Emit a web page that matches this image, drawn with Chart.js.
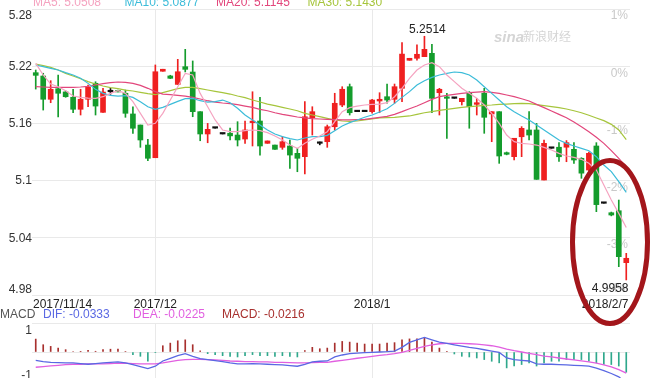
<!DOCTYPE html>
<html>
<head>
<meta charset="utf-8">
<script src="https://cdn.jsdelivr.net/npm/chart.js@4.4.1/dist/chart.umd.min.js"></script>
<style>
  html, body { margin: 0; padding: 0; background: #fff; }
  #wrap { position: relative; width: 654px; height: 378px; overflow: hidden; }
  #kline { position: absolute; left: 0; top: 0; }
  #macd { position: absolute; left: 0; top: 300px; }
  #mark { position: absolute; left: 0; top: 0; pointer-events: none; }
</style>
</head>
<body>
<div id="wrap">
  <canvas id="kline" width="654" height="312"></canvas>
  <canvas id="macd" width="654" height="90"></canvas>
  <canvas id="mark" width="654" height="378"></canvas>
</div>
<script>
// Sina-style daily K-line with MA lines and MACD panel

// --- data ---
const xTickIndex = [0, 16, 45, 79];
const xTickLabels = ['2017/11/14', '2017/12', '2018/1', '2018/2/7'];
const priceTicks = [4.98, 5.04, 5.10, 5.16, 5.22, 5.28];
const pctLabels = ['-4%', '-3%', '-2%', '-1%', '0%', '1%'];
const macdTickLabels = ['-1', '1'];

const opens = [
  5.2132, 5.2097, 5.1853, 5.1964, 5.1930, 5.1874, 5.1748, 5.1853, 5.2021, 5.1716,
  5.1932, 5.1945, 5.1916, 5.1699, 5.1583, 5.1373, 5.1240, 5.2147, 5.2098, 5.2009,
  5.2195, 5.2139, 5.1723, 5.1489, 5.1550, 5.1489, 5.1497, 5.1478, 5.1436, 5.1608,
  5.1625, 5.1391, 5.1373, 5.1349, 5.1363, 5.1286, 5.1251, 5.1660, 5.1391, 5.1408,
  5.1565, 5.1793, 5.1985, 5.1723, 5.1723, 5.1723, 5.1835, 5.1880, 5.1853, 5.1968,
  5.2262, 5.2283, 5.2300, 5.2335, 5.1922, 5.1877, 5.1863, 5.1828, 5.1916, 5.1800,
  5.1916, 5.1699, 5.1723, 5.1293, 5.1251, 5.1460, 5.1531, 5.1531, 5.1006, 5.1339,
  5.1350, 5.1350, 5.1328, 5.1234, 5.1111, 5.1363, 5.0762, 5.0663, 5.0684, 5.0139
];
const highs = [
  5.2160, 5.2126, 5.2048, 5.2108, 5.1940, 5.1958, 5.1958, 5.2003, 5.2037, 5.1968,
  5.1968, 5.1950, 5.1950, 5.1775, 5.1583, 5.1433, 5.2213, 5.2168, 5.2105, 5.2272,
  5.2377, 5.2255, 5.1723, 5.1600, 5.1550, 5.1489, 5.1550, 5.1618, 5.1625, 5.1932,
  5.1874, 5.1416, 5.1373, 5.1460, 5.1426, 5.1339, 5.1828, 5.1775, 5.1405, 5.1583,
  5.1916, 5.1985, 5.2013, 5.1723, 5.1723, 5.1853, 5.1922, 5.2013, 5.2013, 5.2447,
  5.2283, 5.2423, 5.2514, 5.2430, 5.1968, 5.1916, 5.1863, 5.1863, 5.1933, 5.1863,
  5.1968, 5.1723, 5.1723, 5.1300, 5.1444, 5.1566, 5.1723, 5.1600, 5.1426, 5.1339,
  5.1400, 5.1420, 5.1398, 5.1240, 5.1300, 5.1398, 5.0762, 5.0670, 5.0796, 5.0237
];
const lows = [
  5.1960, 5.1740, 5.1817, 5.1667, 5.1874, 5.1712, 5.1688, 5.1775, 5.1688, 5.1716,
  5.1905, 5.1929, 5.1664, 5.1496, 5.1349, 5.1209, 5.1240, 5.2147, 5.2070, 5.2009,
  5.2140, 5.1670, 5.1418, 5.1397, 5.1550, 5.1489, 5.1427, 5.1363, 5.1391, 5.1363,
  5.1268, 5.1391, 5.1328, 5.1328, 5.1129, 5.1093, 5.1069, 5.1478, 5.1375, 5.1349,
  5.1530, 5.1775, 5.1688, 5.1723, 5.1723, 5.1706, 5.1712, 5.1811, 5.1811, 5.1828,
  5.2262, 5.2262, 5.2300, 5.1712, 5.1688, 5.1443, 5.1863, 5.1793, 5.1549, 5.1688,
  5.1496, 5.1408, 5.1181, 5.1270, 5.1216, 5.1251, 5.1426, 5.1013, 5.1006, 5.1339,
  5.1200, 5.1198, 5.1180, 5.1024, 5.1100, 5.0674, 5.0762, 5.0630, 5.0097, 4.9958
];
const closes = [
  5.2104, 5.1853, 5.1958, 5.1916, 5.1880, 5.1748, 5.1853, 5.1979, 5.1782, 5.1929,
  5.1932, 5.1930, 5.1706, 5.1549, 5.1426, 5.1234, 5.2142, 5.2168, 5.2073, 5.2142,
  5.2167, 5.1723, 5.1489, 5.1538, 5.1550, 5.1489, 5.1469, 5.1426, 5.1531, 5.1622,
  5.1363, 5.1416, 5.1328, 5.1408, 5.1268, 5.1234, 5.1670, 5.1723, 5.1391, 5.1565,
  5.1811, 5.1958, 5.1712, 5.1723, 5.1723, 5.1845, 5.1853, 5.1845, 5.1985, 5.2327,
  5.2283, 5.2325, 5.2377, 5.1863, 5.1958, 5.1863, 5.1863, 5.1863, 5.1775, 5.1817,
  5.1664, 5.1723, 5.1258, 5.1276, 5.1444, 5.1548, 5.1478, 5.1013, 5.1391, 5.1339,
  5.1250, 5.1398, 5.1216, 5.1078, 5.1286, 5.0748, 5.0762, 5.0639, 5.0202, 5.0185
];

const ma5 = [
  5.2230, 5.2108, 5.2013, 5.1985, 5.1943, 5.1887, 5.1873, 5.1866, 5.1863, 5.1880,
  5.1915, 5.1943, 5.1915, 5.1828, 5.1705, 5.1583, 5.1601, 5.1705, 5.1845, 5.1985,
  5.2125, 5.2108, 5.1915, 5.1775, 5.1636, 5.1531, 5.1513, 5.1513, 5.1524, 5.1531,
  5.1524, 5.1503, 5.1468, 5.1426, 5.1373, 5.1338, 5.1391, 5.1433, 5.1468, 5.1513,
  5.1618, 5.1723, 5.1765, 5.1782, 5.1793, 5.1800, 5.1803, 5.1817, 5.1880, 5.1968,
  5.2073, 5.2160, 5.2213, 5.2237, 5.2195, 5.2108, 5.2038, 5.1968, 5.1915, 5.1863,
  5.1793, 5.1705, 5.1601, 5.1478, 5.1408, 5.1391, 5.1384, 5.1373, 5.1349, 5.1321,
  5.1286, 5.1258, 5.1244, 5.1223, 5.1181, 5.1111, 5.0954, 5.0796, 5.0656, 5.0508
];
const ma10 = [
  5.2213, 5.2195, 5.2178, 5.2160, 5.2132, 5.2108, 5.2073, 5.2020, 5.1957, 5.1915,
  5.1894, 5.1887, 5.1891, 5.1873, 5.1828, 5.1775, 5.1747, 5.1768, 5.1800, 5.1831,
  5.1859, 5.1863, 5.1838, 5.1824, 5.1828, 5.1845, 5.1817, 5.1758, 5.1688, 5.1636,
  5.1583, 5.1531, 5.1489, 5.1461, 5.1440, 5.1426, 5.1447, 5.1461, 5.1461, 5.1475,
  5.1524, 5.1573, 5.1608, 5.1636, 5.1664, 5.1688, 5.1720, 5.1754, 5.1810, 5.1873,
  5.1933, 5.2003, 5.2048, 5.2083, 5.2108, 5.2125, 5.2139, 5.2132, 5.2108, 5.2055,
  5.1985, 5.1915, 5.1845, 5.1775, 5.1723, 5.1678, 5.1636, 5.1583, 5.1531, 5.1478,
  5.1426, 5.1391, 5.1363, 5.1338, 5.1314, 5.1251, 5.1163, 5.1094, 5.0989, 5.0877
];
const ma20 = [
  5.1985, 5.1982, 5.1978, 5.1978, 5.1978, 5.1978, 5.1982, 5.1989, 5.2003, 5.2017,
  5.2027, 5.2034, 5.2031, 5.2020, 5.1999, 5.1968, 5.1933, 5.1908, 5.1901, 5.1894,
  5.1887, 5.1873, 5.1856, 5.1838, 5.1824, 5.1814, 5.1807, 5.1796, 5.1782, 5.1768,
  5.1747, 5.1733, 5.1712, 5.1695, 5.1681, 5.1667, 5.1657, 5.1650, 5.1646, 5.1643,
  5.1639, 5.1636, 5.1636, 5.1639, 5.1643, 5.1653, 5.1664, 5.1674, 5.1695, 5.1723,
  5.1754, 5.1782, 5.1817, 5.1852, 5.1880, 5.1894, 5.1905, 5.1915, 5.1922, 5.1929,
  5.1933, 5.1926, 5.1915, 5.1898, 5.1880, 5.1859, 5.1835, 5.1800, 5.1765, 5.1730,
  5.1695, 5.1660, 5.1615, 5.1566, 5.1513, 5.1454, 5.1391, 5.1314, 5.1233, 5.1145
];
const ma30 = [
  5.2223, 5.2206, 5.2188, 5.2160, 5.2125, 5.2097, 5.2069, 5.2038, 5.2013, 5.1992,
  5.1975, 5.1964, 5.1950, 5.1940, 5.1926, 5.1912, 5.1901, 5.1922, 5.1943, 5.1964,
  5.1978, 5.1978, 5.1964, 5.1950, 5.1936, 5.1922, 5.1908, 5.1887, 5.1870, 5.1845,
  5.1824, 5.1803, 5.1786, 5.1768, 5.1751, 5.1733, 5.1705, 5.1688, 5.1671, 5.1653,
  5.1636, 5.1625, 5.1622, 5.1625, 5.1636, 5.1646, 5.1657, 5.1660, 5.1664, 5.1671,
  5.1678, 5.1695, 5.1712, 5.1723, 5.1737, 5.1747, 5.1758, 5.1768, 5.1775, 5.1782,
  5.1789, 5.1793, 5.1800, 5.1803, 5.1807, 5.1810, 5.1807, 5.1796, 5.1786, 5.1775,
  5.1765, 5.1751, 5.1733, 5.1712, 5.1685, 5.1657, 5.1629, 5.1590, 5.1531, 5.1430
];

const dif = [
  -0.0089, -0.0103, -0.0110, -0.0113, -0.0117, -0.0117, -0.0124, -0.0131, -0.0124, -0.0117,
  -0.0110, -0.0106, -0.0117, -0.0135, -0.0156, -0.0177, -0.0152, -0.0096, -0.0067, -0.0039,
  -0.0018, -0.0046, -0.0071, -0.0082, -0.0092, -0.0103, -0.0117, -0.0128, -0.0128, -0.0124,
  -0.0128, -0.0131, -0.0135, -0.0138, -0.0145, -0.0152, -0.0131, -0.0106, -0.0099, -0.0096,
  -0.0053, -0.0032, -0.0018, -0.0011, -0.0007, -0.0004, 0.0000, 0.0003, 0.0010, 0.0049,
  0.0102, 0.0130, 0.0155, 0.0130, 0.0106, 0.0092, 0.0077, 0.0063, 0.0049, 0.0039,
  0.0024, 0.0010, -0.0004, -0.0064, -0.0082, -0.0089, -0.0096, -0.0128, -0.0131, -0.0131,
  -0.0135, -0.0138, -0.0142, -0.0145, -0.0152, -0.0173, -0.0198, -0.0230, -0.0265, -0.0333
];
const dea = [
  -0.0163, -0.0156, -0.0149, -0.0142, -0.0135, -0.0131, -0.0131, -0.0128, -0.0128, -0.0128,
  -0.0124, -0.0120, -0.0120, -0.0124, -0.0128, -0.0128, -0.0128, -0.0117, -0.0103, -0.0089,
  -0.0082, -0.0078, -0.0078, -0.0082, -0.0085, -0.0089, -0.0096, -0.0099, -0.0103, -0.0103,
  -0.0106, -0.0106, -0.0110, -0.0110, -0.0113, -0.0117, -0.0117, -0.0113, -0.0110, -0.0110,
  -0.0099, -0.0089, -0.0078, -0.0067, -0.0057, -0.0046, -0.0036, -0.0029, -0.0018, -0.0004,
  0.0017, 0.0039, 0.0060, 0.0077, 0.0088, 0.0092, 0.0092, 0.0092, 0.0088, 0.0084,
  0.0077, 0.0067, 0.0053, 0.0031, 0.0014, 0.0000, -0.0015, -0.0029, -0.0043, -0.0053,
  -0.0064, -0.0075, -0.0085, -0.0096, -0.0106, -0.0120, -0.0138, -0.0159, -0.0188, -0.0225
];
const macdBars = [
  0.0138, 0.0078, 0.0060, 0.0042, 0.0025, 0.0005, 0.0003, 0.0018, 0.0008, 0.0025,
  0.0030, 0.0030, 0.0005, -0.0028, -0.0046, -0.0099, -0.0004, 0.0067, 0.0095, 0.0120,
  0.0130, 0.0078, 0.0012, -0.0018, -0.0028, -0.0039, -0.0046, -0.0053, -0.0039, -0.0028,
  -0.0039, -0.0039, -0.0046, -0.0039, -0.0046, -0.0053, 0.0014, 0.0050, 0.0035, 0.0042,
  0.0095, 0.0113, 0.0106, 0.0095, 0.0085, 0.0085, 0.0085, 0.0095, 0.0100, 0.0130,
  0.0140, 0.0140, 0.0155, 0.0106, 0.0042, 0.0003, -0.0021, -0.0046, -0.0053, -0.0064,
  -0.0081, -0.0099, -0.0116, -0.0170, -0.0150, -0.0134, -0.0116, -0.0150, -0.0116, -0.0099,
  -0.0099, -0.0081, -0.0081, -0.0081, -0.0099, -0.0116, -0.0134, -0.0134, -0.0150, -0.0216
];

// --- style ---
const FONT = '12px Arial, "Liberation Sans", sans-serif';
const GRID = '#e9e9e9';
const NONE = 'rgba(0,0,0,0)';
const UP = '#ef2020', DOWN = '#149c2c', FLAT = '#111';
const MA_COLORS = ['#f5a3c0', '#3cbcd9', '#e2477c', '#a6c53c'];
const DIF_COLOR = '#5a68e3', DEA_COLOR = '#e15fe0', MACD_COLOR = '#a8302e', MACD_DOWN = '#2fa88c';

Chart.defaults.font.family = 'Arial, "Liberation Sans", sans-serif';

const days = opens.map((_, i) => i);
const candleColors = opens.map((o, i) => closes[i] > o ? UP : closes[i] < o ? DOWN : FLAT);
const monthLines = xTickIndex.slice(1, -1);

const lineSet = (label, data, color) => ({
  type: 'line', label, data, borderColor: color, borderWidth: 1.2,
  pointRadius: 0, tension: 0, fill: false, order: 0
});

const xScale = {
  offset: true,
  ticks: { display: false, autoSkip: false },
  grid: { offset: false, drawTicks: false, color: c => monthLines.includes(c.index) ? GRID : NONE },
  border: { display: false }
};

// text drawn on the K-line panel
const klineText = {
  id: 'klineText',
  beforeDatasetsDraw(chart) {
    const { ctx, chartArea: a, scales: { y } } = chart;
    ctx.save();
    ctx.font = FONT;
    ctx.fillStyle = '#c9c9c9';
    ctx.textAlign = 'right';
    priceTicks.forEach((v, k) => {
      const py = y.getPixelForValue(v);
      if (k === 0) { ctx.textBaseline = 'alphabetic'; ctx.fillText(pctLabels[k], a.right - 2, py - 3); }
      else { ctx.textBaseline = 'top'; ctx.fillText(pctLabels[k], a.right - 2, py + 1); }
    });
    // watermark
    ctx.fillStyle = '#d5d5d5';
    ctx.textAlign = 'left';
    ctx.textBaseline = 'alphabetic';
    ctx.font = 'italic bold 15px Arial, sans-serif';
    ctx.fillText('sina', 494, 42);
    ctx.font = '12px "Noto Sans CJK SC", sans-serif';
    ctx.fillText('新浪财经', 523, 41);
    ctx.restore();
  },
  afterDraw(chart) {
    const { ctx, chartArea: a, scales: { x, y } } = chart;
    ctx.save();
    ctx.font = FONT;

    // MA legend (partly above the canvas top)
    const maLast = [ma5, ma10, ma20, ma30].map(s => s[s.length - 1].toFixed(4));
    ['MA5', 'MA10', 'MA20', 'MA30'].forEach((n, k) => {
      ctx.fillStyle = MA_COLORS[k];
      ctx.textAlign = 'left';
      ctx.textBaseline = 'alphabetic';
      ctx.fillText(n + ': ' + maLast[k], 33 + k * 91.5, 6);
    });

    // left price labels
    ctx.fillStyle = '#333';
    ctx.textAlign = 'right';
    priceTicks.forEach((v, k) => {
      const py = y.getPixelForValue(v);
      if (k === priceTicks.length - 1) { ctx.textBaseline = 'top'; ctx.fillText(v.toFixed(2).replace(/0$/, ''), a.left, py + 1); }
      else if (k === 0) { ctx.textBaseline = 'alphabetic'; ctx.fillText(v.toFixed(2).replace(/0$/, ''), a.left, py - 2.5); }
      else { ctx.textBaseline = 'middle'; ctx.fillText(v.toFixed(2).replace(/0$/, ''), a.left, py + 0.5); }
    });

    // date labels
    ctx.fillStyle = '#222';
    ctx.textBaseline = 'alphabetic';
    xTickIndex.forEach((idx, k) => {
      const px = x.getPixelForValue(idx);
      if (k === 0) { ctx.textAlign = 'left'; ctx.fillText(xTickLabels[k], a.left + 1, a.bottom + 12.5); }
      else if (k === xTickIndex.length - 1) { ctx.textAlign = 'right'; ctx.fillText(xTickLabels[k], a.right - 1.5, a.bottom + 12.5); }
      else { ctx.textAlign = 'center'; ctx.fillText(xTickLabels[k], px, a.bottom + 12.5); }
    });

    // highest / lowest marks
    const hi = Math.max(...highs), lo = Math.min(...lows);
    const hiIdx = highs.indexOf(hi), loIdx = lows.indexOf(lo);
    ctx.fillStyle = '#222';
    ctx.textAlign = 'center';
    ctx.fillText(hi.toFixed(4), x.getPixelForValue(hiIdx) + 3, y.getPixelForValue(hi) - 3);
    ctx.textAlign = 'right';
    ctx.fillText(lo.toFixed(4), Math.min(x.getPixelForValue(loIdx) + 18, a.right - 1.5), y.getPixelForValue(lo) + 12);
    ctx.restore();
  }
};

new Chart(document.getElementById('kline'), {
  data: {
    labels: days,
    datasets: [
      lineSet('MA5', ma5, MA_COLORS[0]),
      lineSet('MA10', ma10, MA_COLORS[1]),
      lineSet('MA20', ma20, MA_COLORS[2]),
      lineSet('MA30', ma30, MA_COLORS[3]),
      {
        type: 'bar', label: 'body', data: opens.map((o, i) => [o, closes[i]]),
        backgroundColor: candleColors, barThickness: 5, minBarLength: 1.5,
        grouped: false, order: 1
      },
      {
        type: 'bar', label: 'wick', data: lows.map((l, i) => [l, highs[i]]),
        backgroundColor: candleColors, barThickness: 1, grouped: false, order: 2
      }
    ]
  },
  options: {
    responsive: false,
    animation: false,
    layout: { padding: { left: 32, right: 24, top: 9, bottom: 17 } },
    plugins: { legend: { display: false }, tooltip: { enabled: false } },
    scales: {
      x: xScale,
      y: {
        min: priceTicks[0], max: priceTicks[priceTicks.length - 1],
        afterBuildTicks: s => { s.ticks = priceTicks.map(v => ({ value: v })); },
        ticks: { display: false },
        grid: { drawTicks: false, color: GRID },
        border: { display: false }
      }
    }
  },
  plugins: [klineText]
});

// MACD panel
const MACD_RANGE = 0.031;
const macdText = {
  id: 'macdText',
  afterDraw(chart) {
    const { ctx, chartArea: a } = chart;
    ctx.save();
    ctx.font = FONT;
    ctx.textBaseline = 'alphabetic';
    ctx.textAlign = 'left';
    const last = a => a[a.length - 1].toFixed(4);
    const items = [
      ['MACD', '#555', 0],
      ['DIF: ' + last(dif), DIF_COLOR, 43],
      ['DEA: ' + last(dea), DEA_COLOR, 133],
      ['MACD: ' + last(macdBars), MACD_COLOR, 222]
    ];
    items.forEach(([t, c, px]) => { ctx.fillStyle = c; ctx.fillText(t, px, 18); });
    ctx.fillStyle = '#333';
    ctx.textAlign = 'right';
    ctx.textBaseline = 'top';
    ctx.fillText(macdTickLabels[1], a.left, a.top + 2);
    ctx.textBaseline = 'alphabetic';
    ctx.fillText(macdTickLabels[0], a.left, a.bottom - 2);
    ctx.restore();
  }
};

new Chart(document.getElementById('macd'), {
  data: {
    labels: days,
    datasets: [
      { type: 'line', data: dif, borderColor: DIF_COLOR, borderWidth: 1.3, pointRadius: 0, tension: 0, order: 0 },
      { type: 'line', data: dea, borderColor: DEA_COLOR, borderWidth: 1.3, pointRadius: 0, tension: 0, order: 0 },
      {
        type: 'bar', data: macdBars,
        backgroundColor: macdBars.map(v => v >= 0 ? MACD_COLOR : MACD_DOWN),
        barThickness: 1, order: 1
      }
    ]
  },
  options: {
    responsive: false,
    animation: false,
    layout: { padding: { left: 32, right: 24, top: 23, bottom: 9 } },
    plugins: { legend: { display: false }, tooltip: { enabled: false } },
    scales: {
      x: xScale,
      y: {
        min: -MACD_RANGE, max: MACD_RANGE,
        afterBuildTicks: s => { s.ticks = [{ value: -MACD_RANGE }, { value: 0 }, { value: MACD_RANGE }]; },
        ticks: { display: false },
        grid: { drawTicks: false, color: c => c.tick && c.tick.value < 0 ? NONE : GRID },
        border: { display: false }
      }
    }
  },
  plugins: [macdText]
});

// hand-drawn red circle around the last days
const mk = document.getElementById('mark').getContext('2d');
mk.strokeStyle = '#a3161b';
mk.lineWidth = 5;
mk.beginPath();
mk.ellipse(610, 242, 37.5, 81.5, 0, 0, Math.PI * 2);
mk.stroke();
</script>
</body>
</html>
